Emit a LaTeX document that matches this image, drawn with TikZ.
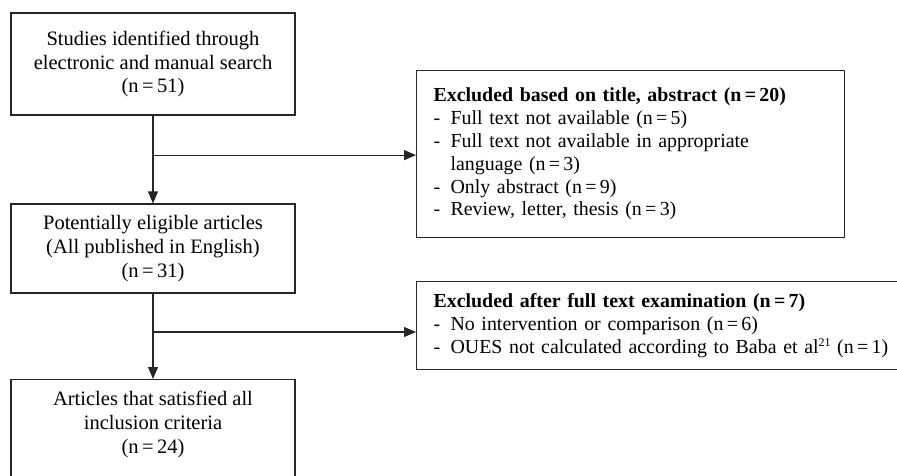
\documentclass[tikz,border=0pt]{standalone}
\usepackage{fontspec}
\setmainfont{Liberation Serif}
\usetikzlibrary{arrows.meta,positioning,calc}

% dash in front of each reason, count with tight spacing
\newcommand{\exitem}[1]{\makebox[17pt][l]{-}#1}
\newcommand{\cnt}[1]{(n\,=\,#1)}

\tikzset{
    flowbox/.style={draw=black!85, line width=1.1pt, minimum width=284pt, align=center,
        font=\fontsize{20.5}{23.8}\selectfont},
    exclbox/.style={draw=black!85, line width=1.1pt, anchor=north west, align=left,
        inner xsep=17pt, font=\fontsize{19.9}{22.8}\selectfont},
    flowarrow/.style={-{Triangle[length=12pt,width=10pt]}, line width=1.1pt, draw=black!85}
}

\begin{document}
\begin{tikzpicture}[x=1pt, y=-1pt]
    \useasboundingbox (0,0) rectangle (897,476);

    % Main flow boxes
    \node[flowbox, minimum height=102pt] (ident) at (153,64)
        {Studies identified through\\electronic and manual search\\\cnt{51}};
    \node[flowbox, minimum height=89pt] (elig) at (153,248.5)
        {Potentially eligible articles\\(All published in English)\\\cnt{31}};
    \node[flowbox, anchor=north, inner ysep=12pt, text depth=140pt] (incl) at (153,379)
        {Articles that satisfied all\\inclusion criteria\\\cnt{24}};

    % Exclusion boxes
    \node[exclbox, text width=394pt, minimum height=167pt] (excltitle) at (416,70)
        {\textbf{Excluded based on title, abstract \cnt{20}}\\
         \exitem{Full text not available \cnt{5}}\\
         \exitem{Full text not available in appropriate}\\
         \hspace*{17pt}language \cnt{3}\\
         \exitem{Only abstract \cnt{9}}\\
         \exitem{Review, letter, thesis \cnt{3}}};
    \node[exclbox, text width=480pt, minimum height=88pt] (exclfull) at (416,281)
        {\textbf{Excluded after full text examination \cnt{7}}\\
         \exitem{No intervention or comparison \cnt{6}}\\
         \exitem{OUES not calculated according to Baba et al\raisebox{0.75ex}{\fontsize{12}{12}\selectfont 21} \cnt{1}}};

    % Branch points
    \coordinate (split1) at ($(ident.south)!0.45!(elig.north)$);
    \coordinate (split2) at ($(elig.south)!0.45!(incl.north)$);

    % Connectors
    \draw[flowarrow] (ident.south) -- (elig.north);
    \draw[flowarrow] (split1) -- (split1 -| excltitle.west);
    \draw[flowarrow] (elig.south) -- (incl.north);
    \draw[flowarrow] (split2) -- (split2 -| exclfull.west);
\end{tikzpicture}
\end{document}
